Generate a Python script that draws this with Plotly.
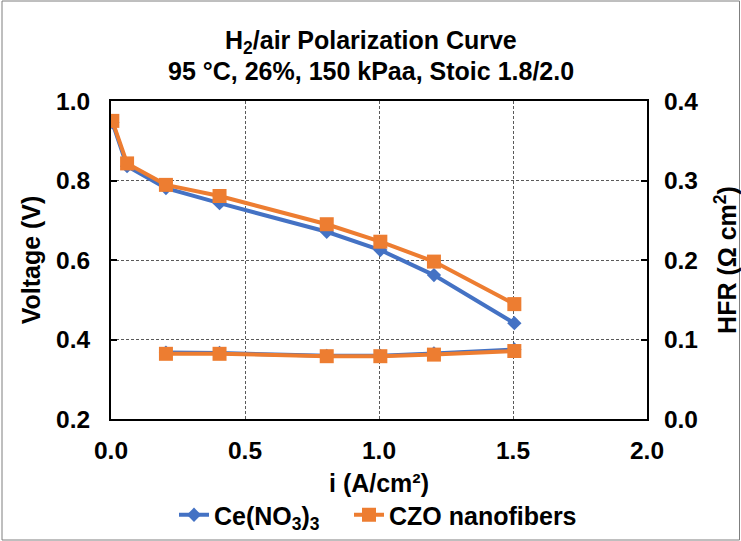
import plotly.graph_objects as go

# Data
current = [0.005, 0.06, 0.205, 0.405, 0.805, 1.005, 1.205, 1.505]
v_ce = [0.946, 0.836, 0.781, 0.743, 0.671, 0.625, 0.562, 0.441]
v_czo = [0.950, 0.843, 0.789, 0.761, 0.690, 0.646, 0.596, 0.489]
hfr_current = [0.205, 0.405, 0.805, 1.005, 1.205, 1.505]
hfr_ce = [0.0835, 0.083, 0.0795, 0.0795, 0.0825, 0.0875]
hfr_czo = [0.082, 0.082, 0.079, 0.079, 0.081, 0.0855]
title_lines = ["H<sub>2</sub>/air Polarization Curve", "95 °C, 26%, 150 kPaa, Stoic 1.8/2.0"]

BLUE = "#4472C4"
ORANGE = "#ED7D31"
FONT = "Liberation Sans, Arial, sans-serif"

W, H = 741, 541
L, R, T, B = 111, 94, 101, 122
pw, ph = W - L - R, H - T - B


def px(xp):
    return (xp - L) / pw


def py(yp):
    return (H - B - yp) / ph


fig = go.Figure()
mk_ce = dict(symbol="diamond", size=11, color=BLUE)
mk_czo = dict(symbol="square", size=14, color=ORANGE)
fig.add_trace(go.Scatter(x=current, y=v_ce, mode="lines+markers", name="Ce(NO<sub>3</sub>)<sub>3</sub>",
                         line=dict(color=BLUE, width=4), marker=mk_ce, legendgroup="ce", legend="legend"))
fig.add_trace(go.Scatter(x=current, y=v_czo, mode="lines+markers", name="CZO nanofibers",
                         line=dict(color=ORANGE, width=4), marker=mk_czo, legendgroup="czo", legend="legend2"))
fig.add_trace(go.Scatter(x=hfr_current, y=hfr_ce, mode="lines+markers", showlegend=False, yaxis="y2",
                         line=dict(color=BLUE, width=4), marker=mk_ce, legendgroup="ce"))
fig.add_trace(go.Scatter(x=hfr_current, y=hfr_czo, mode="lines+markers", showlegend=False, yaxis="y2",
                         line=dict(color=ORANGE, width=4), marker=mk_czo, legendgroup="czo"))

tickfont = dict(family=FONT, size=24.5, color="black", weight="bold")
titlefont = dict(family=FONT, size=25, color="black", weight="bold")
grid = dict(showgrid=True, gridcolor="#595959", gridwidth=1, griddash="3px,2px")
legfont = dict(family=FONT, size=25, color="black", weight="bold")
leg_y = -(515 - 419) / ph

fig.update_layout(
    width=W, height=H,
    margin=dict(l=L, r=R, t=T, b=B, autoexpand=False),
    paper_bgcolor="white", plot_bgcolor="white",
    font=dict(family=FONT, color="black"),
    xaxis=dict(range=[0, 2], dtick=0.5, tickformat=".1f", showline=True, linecolor="black", linewidth=2,
               mirror=True, ticks="", tickfont=tickfont, ticklabelstandoff=9, zeroline=False,
               title=dict(text="i (A/cm²)", font=titlefont, standoff=11), **grid),
    yaxis=dict(range=[0.2, 1.0], dtick=0.2, tickformat=".1f", showline=True, linecolor="black", linewidth=2,
               ticks="inside", ticklen=6, tickcolor="black", tickwidth=2, tickfont=tickfont,
               ticklabelstandoff=14, zeroline=False,
               title=dict(text="Voltage (V)", font=titlefont, standoff=8), **grid),
    yaxis2=dict(range=[0, 0.4], dtick=0.1, tickformat=".1f", overlaying="y", side="right", showline=True,
                linecolor="black", linewidth=2, ticks="inside", ticklen=6, tickcolor="black", tickwidth=2,
                tickfont=tickfont, ticklabelstandoff=10, showgrid=False, zeroline=False,
                title=dict(text="HFR (Ω cm<sup>2</sup>)", font=titlefont, standoff=24)),
    legend=dict(orientation="h", x=px(174), xanchor="left", y=leg_y, yanchor="middle",
                font=legfont, itemwidth=30, bgcolor="rgba(0,0,0,0)"),
    legend2=dict(orientation="h", x=px(349), xanchor="left", y=leg_y, yanchor="middle",
                 font=legfont, itemwidth=30, bgcolor="rgba(0,0,0,0)"),
)

for txt, yp in zip(title_lines, [42, 71]):
    fig.add_annotation(text="<b>" + txt + "</b>", xref="paper", yref="paper", x=px(W / 2), y=py(yp),
                       xanchor="center", yanchor="middle", showarrow=False,
                       font=dict(family=FONT, size=25, color="black"))

# Outer chart border
fig.add_shape(type="rect", xref="paper", yref="paper", x0=px(2), x1=px(739.5), y0=py(540), y1=py(1),
              line=dict(color="#7f7f7f", width=1), layer="below")

fig.write_html("out.html")
